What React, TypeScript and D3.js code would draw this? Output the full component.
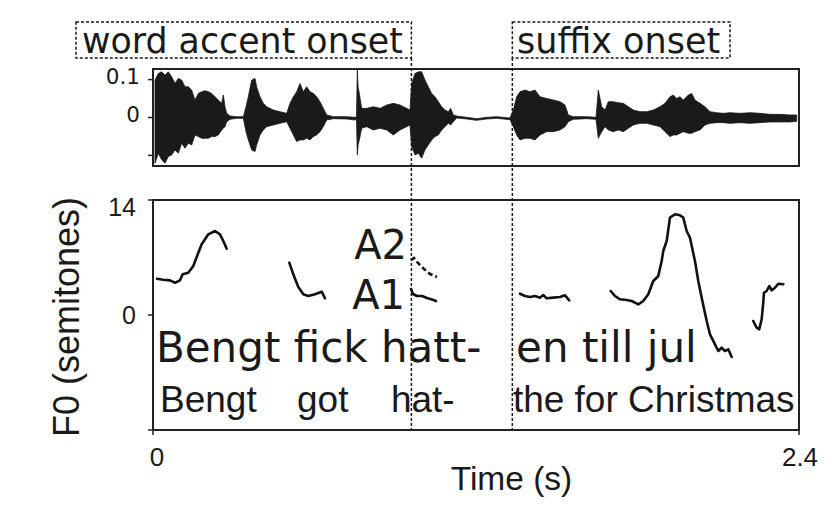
import React from 'react';
import * as d3 from 'd3';

// waveform amplitude envelope: [time (s), upper, lower]
const waveEnvelope: [number, number, number][] = [
  [0.0074, 0.0987, -0.1206], [0.0198, 0.1162, -0.0943], [0.0322, 0.1206, -0.1118],
  [0.0446, 0.1118, -0.1206], [0.0570, 0.1206, -0.1031], [0.0694, 0.1075, -0.0987],
  [0.0817, 0.0899, -0.0855], [0.0941, 0.1031, -0.0943], [0.1065, 0.0987, -0.0680],
  [0.1189, 0.0811, -0.0811], [0.1313, 0.0811, -0.0680], [0.1437, 0.0724, -0.0724],
  [0.1560, 0.0461, -0.0461], [0.1684, 0.0636, -0.0504], [0.1808, 0.0680, -0.0548],
  [0.1932, 0.0706, -0.0548], [0.2056, 0.0680, -0.0548], [0.2180, 0.0636, -0.0504],
  [0.2303, 0.0548, -0.0504], [0.2427, 0.0461, -0.0461], [0.2551, 0.0373, -0.0329],
  [0.2613, 0.0592, -0.0285], [0.2675, 0.0285, -0.0241], [0.2737, 0.0110, -0.0110],
  [0.2861, 0.0039, -0.0048], [0.3108, 0.0022, -0.0022], [0.3356, 0.0022, -0.0022],
  [0.3455, 0.0285, -0.0373], [0.3542, 0.0548, -0.0592], [0.3666, 0.0987, -0.0855],
  [0.3790, 0.1031, -0.0899], [0.3851, 0.0811, -0.0724], [0.3975, 0.0548, -0.0461],
  [0.4099, 0.0373, -0.0329], [0.4223, 0.0285, -0.0241], [0.4471, 0.0197, -0.0197],
  [0.4718, 0.0154, -0.0154], [0.4966, 0.0110, -0.0110], [0.5090, 0.0373, -0.0285],
  [0.5214, 0.0548, -0.0461], [0.5338, 0.0680, -0.0636], [0.5461, 0.0899, -0.0592],
  [0.5585, 0.0680, -0.0592], [0.5709, 0.0811, -0.0548], [0.5833, 0.0680, -0.0592],
  [0.5957, 0.0636, -0.0504], [0.6081, 0.0548, -0.0461], [0.6204, 0.0417, -0.0373],
  [0.6328, 0.0241, -0.0241], [0.6452, 0.0066, -0.0066], [0.6700, 0.0022, -0.0031],
  [0.7195, 0.0022, -0.0039], [0.7505, 0.0004, -0.0066], [0.7560, 0.0022, -0.0048],
  [0.7591, 0.1250, -0.0987], [0.7620, 0.0811, -0.0724], [0.7666, 0.0636, -0.0592],
  [0.7752, 0.0241, -0.0285], [0.7938, 0.0241, -0.0241], [0.8186, 0.0285, -0.0329],
  [0.8434, 0.0241, -0.0285], [0.8681, 0.0329, -0.0329], [0.8929, 0.0373, -0.0461],
  [0.9177, 0.0329, -0.0329], [0.9424, 0.0241, -0.0241], [0.9548, 0.0197, -0.0197],
  [0.9610, 0.0899, -0.0768], [0.9734, 0.1162, -0.0987], [0.9858, 0.1206, -0.0943],
  [0.9982, 0.1206, -0.1075], [1.0105, 0.0987, -0.0855], [1.0229, 0.0811, -0.0724],
  [1.0353, 0.0636, -0.0592], [1.0477, 0.0548, -0.0504], [1.0601, 0.0417, -0.0461],
  [1.0725, 0.0285, -0.0329], [1.0848, 0.0197, -0.0241], [1.0972, 0.0154, -0.0154],
  [1.1059, 0.0241, -0.0197], [1.1158, 0.0066, -0.0110], [1.1282, 0.0039, -0.0013],
  [1.1653, 0.0004, -0.0039], [1.2025, -0.0031, -0.0075], [1.2396, 0.0004, -0.0039],
  [1.2768, 0.0022, -0.0022], [1.3263, -0.0013, -0.0057], [1.3387, 0.0197, -0.0241],
  [1.3511, 0.0548, -0.0461], [1.3635, 0.0680, -0.0592], [1.3821, 0.0724, -0.0548],
  [1.4006, 0.0680, -0.0548], [1.4192, 0.0724, -0.0592], [1.4378, 0.0548, -0.0461],
  [1.4626, 0.0504, -0.0373], [1.4873, 0.0461, -0.0373], [1.5121, 0.0417, -0.0329],
  [1.5307, 0.0329, -0.0241], [1.5431, 0.0066, -0.0110], [1.5616, 0.0022, -0.0048],
  [1.6112, 0.0022, -0.0031], [1.6458, 0.0004, -0.0048], [1.6545, 0.0724, -0.0548],
  [1.6669, 0.0285, -0.0373], [1.6793, 0.0197, -0.0241], [1.6916, 0.0417, -0.0329],
  [1.7102, 0.0417, -0.0373], [1.7288, 0.0390, -0.0329], [1.7474, 0.0373, -0.0373],
  [1.7659, 0.0285, -0.0285], [1.7845, 0.0197, -0.0197], [1.8093, 0.0154, -0.0154],
  [1.8341, 0.0154, -0.0154], [1.8588, 0.0197, -0.0197], [1.8836, 0.0285, -0.0241],
  [1.9022, 0.0373, -0.0373], [1.9208, 0.0548, -0.0504], [1.9332, 0.0592, -0.0461],
  [1.9455, 0.0504, -0.0461], [1.9579, 0.0548, -0.0417], [1.9703, 0.0461, -0.0373],
  [1.9889, 0.0592, -0.0417], [2.0013, 0.0636, -0.0417], [2.0136, 0.0461, -0.0373],
  [2.0322, 0.0373, -0.0329], [2.0508, 0.0285, -0.0197], [2.0694, 0.0154, -0.0154],
  [2.0941, 0.0127, -0.0136], [2.1189, 0.0110, -0.0136], [2.1437, 0.0127, -0.0154],
  [2.1808, 0.0110, -0.0136], [2.2180, 0.0127, -0.0154], [2.2551, 0.0110, -0.0136],
  [2.2923, 0.0083, -0.0118], [2.3294, 0.0083, -0.0118], [2.3666, 0.0066, -0.0118],
  [2.3914, 0.0066, -0.0101],
];

// F0 contours: [time (s), semitones]
const f0Bengt: [number, number][] = [
  [0.0149, 4.42], [0.0371, 4.30], [0.0632, 4.22], [0.0817, 3.93], [0.1003, 4.22],
  [0.1103, 4.95], [0.1311, 5.15], [0.1497, 5.97], [0.1683, 7.58], [0.1809, 8.61],
  [0.2054, 9.82], [0.2303, 10.23], [0.2489, 9.82], [0.2612, 9.01], [0.2738, 8.07],
];
const f0Got: [number, number][] = [
  [0.5064, 6.37], [0.5212, 4.95], [0.5398, 3.41], [0.5584, 2.52], [0.5769, 2.31],
  [0.6019, 2.52], [0.6268, 2.84], [0.6390, 2.03],
];
const f0HattA2: [number, number][] = [
  [0.9585, 6.70], [0.9696, 6.94], [0.9845, 6.33], [1.0068, 5.60], [1.0291, 4.99], [1.0551, 4.63],
];
const f0HattA1: [number, number][] = [
  [0.9585, 3.17], [0.9659, 2.56], [0.9808, 2.31], [0.9994, 2.31], [1.0180, 2.07],
  [1.0365, 1.89], [1.0514, 1.70],
];
const f0En: [number, number][] = [
  [1.3634, 2.59], [1.3820, 2.31], [1.4006, 2.19], [1.4191, 2.31], [1.4377, 2.11],
  [1.4500, 2.43], [1.4626, 2.03], [1.4871, 2.11], [1.5120, 2.19], [1.5306, 2.40], [1.5466, 1.79],
];
const f0TillJul: [number, number][] = [
  [1.7004, 2.92], [1.7163, 2.31], [1.7349, 1.91], [1.7598, 1.83], [1.7784, 1.70],
  [1.8029, 1.30], [1.8215, 1.70], [1.8400, 2.52], [1.8586, 4.14], [1.8772, 4.75],
  [1.8898, 6.57], [1.8957, 7.79], [1.9084, 9.01], [1.9206, 11.85], [1.9392, 12.26],
  [1.9578, 12.14], [1.9700, 11.85], [1.9827, 10.23], [1.9949, 9.41], [2.0135, 6.57],
  [2.0258, 4.14], [2.0384, 2.11], [2.0570, -0.73], [2.0693, -2.35], [2.0879, -3.57],
  [2.1001, -4.38], [2.1127, -3.98], [2.1250, -4.38], [2.1373, -4.18], [2.1499, -5.11],
];
const f0Final: [number, number][] = [
  [2.2301, -0.73], [2.2427, -1.55], [2.2524, -1.74], [2.2613, -0.52], [2.2672, 1.50],
  [2.2698, 2.71], [2.2799, 2.92], [2.2895, 3.53], [2.2984, 3.01], [2.3107, 3.32],
  [2.3230, 3.81], [2.3416, 3.74],
];

const waveTicks = [0.1, 0, -0.1];
const waveTickLabels = ['0.1', '0', ''];
const f0Ticks = [14, 0, -14];
const f0TickLabels = ['14', '0', ''];
const timeTicks = [0, 2.4];
const timeTickLabels = ['0', '2.4'];

const accentOnset = 0.96;
const suffixOnset = 1.335;

// text rows: [label, start time]
const swedishWords: [string, number][] = [['Bengt fick hatt-', 0.011], ['en till jul', 1.349]];
const glossWords: [string, number][] = [['Bengt', 0.026], ['got', 0.535], ['hat-', 0.884], ['the for Christmas', 1.337]];

const ink = '#1a1a1a';
const arial = '"Liberation Sans", Arial, sans-serif';
const dejavu = '"DejaVu Sans", sans-serif';

export default function App() {
  const left = 153, right = 799;
  const waveTop = 69, waveBottom = 166;
  const f0Top = 200, f0Bottom = 430;

  const x = d3.scaleLinear().domain([0, 2.4]).range([left, right]);
  const yWave = d3.scaleLinear().domain([-0.128, 0.128]).range([waveBottom, waveTop]);
  const yF0 = d3.scaleLinear().domain([-14, 14]).range([f0Bottom, f0Top]);

  const waveArea = d3.area<[number, number, number]>()
    .x(d => x(d[0]))
    .y0(d => yWave(d[2]))
    .y1(d => yWave(d[1]));

  const f0Line = d3.line<[number, number]>()
    .x(d => x(d[0]))
    .y(d => yF0(d[1]));

  const solidSegments = [f0Bengt, f0Got, f0HattA1, f0En, f0TillJul, f0Final];

  return (
    <svg width={838} height={514} style={{ position: 'absolute', left: 0, top: 0, background: '#fff' }}>
      {/* waveform panel */}
      <path d={waveArea(waveEnvelope) || ''} fill={ink} stroke={ink} strokeWidth={0.8} />
      <rect x={left} y={waveTop} width={right - left} height={waveBottom - waveTop} fill="none" stroke="#222" strokeWidth={2} />
      {waveTicks.map((t, i) => (
        <g key={'wt' + i}>
          <line x1={left - 5} x2={left} y1={yWave(t)} y2={yWave(t)} stroke="#222" strokeWidth={1.5} />
          <text x={140} y={yWave(t) - 3} dy="0.36em" textAnchor="end" fontFamily={dejavu} fontSize={21.5} fill={ink}>
            {waveTickLabels[i]}
          </text>
        </g>
      ))}

      {/* onset label boxes */}
      <rect x={76} y={22} width={x(accentOnset) - 76} height={36} fill="none" stroke={ink} strokeWidth={1.5} strokeDasharray="3,2" />
      <text x={82} y={53} fontFamily={dejavu} fontSize={34.8} fill={ink}>word accent onset</text>
      <rect x={x(suffixOnset)} y={22} width={730 - x(suffixOnset)} height={36} fill="none" stroke={ink} strokeWidth={1.5} strokeDasharray="3,2" />
      <text x={517} y={53} fontFamily={dejavu} fontSize={35} fill={ink}>suffix onset</text>

      {/* F0 panel */}
      <rect x={left} y={f0Top} width={right - left} height={f0Bottom - f0Top} fill="none" stroke="#222" strokeWidth={2} />
      {f0Ticks.map((t, i) => (
        <g key={'ft' + i}>
          <line x1={left - 5} x2={left} y1={yF0(t)} y2={yF0(t)} stroke="#222" strokeWidth={1.5} />
          <text x={136} y={Math.max(yF0(t), f0Top + 7)} dy="0.36em" textAnchor="end" fontFamily={arial} fontSize={25} fill={ink}>
            {f0TickLabels[i]}
          </text>
        </g>
      ))}
      {timeTicks.map((t, i) => (
        <g key={'tt' + i}>
          <line x1={x(t)} x2={x(t)} y1={f0Bottom} y2={f0Bottom + 5} stroke="#222" strokeWidth={1.5} />
          <text x={x(t) + (i === 0 ? 4 : 1)} y={466} textAnchor="middle" fontFamily={arial} fontSize={26} fill={ink}>
            {timeTickLabels[i]}
          </text>
        </g>
      ))}
      <text x={511.5} y={490} textAnchor="middle" fontFamily={arial} fontSize={33.5} fill={ink}>Time (s)</text>
      <text transform="translate(79,317) rotate(-90)" textAnchor="middle" fontFamily={arial} fontSize={36} fill={ink}>F0 (semitones)</text>

      {solidSegments.map((seg, i) => (
        <path key={'f0' + i} d={f0Line(seg) || ''} fill="none" stroke="#111" strokeWidth={2.6} strokeLinejoin="round" strokeLinecap="round" />
      ))}
      <path d={f0Line(f0HattA2) || ''} fill="none" stroke="#111" strokeWidth={2.6} strokeDasharray="5,3" />

      <text x={407} y={259} textAnchor="end" fontFamily={dejavu} fontSize={40} fill={ink}>A2</text>
      <text x={405} y={309} textAnchor="end" fontFamily={dejavu} fontSize={40} fill={ink}>A1</text>

      {swedishWords.map(([w, t]) => (
        <text key={w} x={x(t)} y={362} fontFamily={dejavu} fontSize={42} fill={ink}>{w}</text>
      ))}
      {glossWords.map(([w, t]) => (
        <text key={w} x={x(t)} y={412} fontFamily={arial} fontSize={37} fill={ink}>{w}</text>
      ))}

      {/* onset markers */}
      <line x1={x(accentOnset)} x2={x(accentOnset)} y1={58} y2={f0Bottom} stroke={ink} strokeWidth={1.5} strokeDasharray="3,2" />
      <line x1={x(suffixOnset)} x2={x(suffixOnset)} y1={58} y2={f0Bottom} stroke={ink} strokeWidth={1.5} strokeDasharray="3,2" />
    </svg>
  );
}
